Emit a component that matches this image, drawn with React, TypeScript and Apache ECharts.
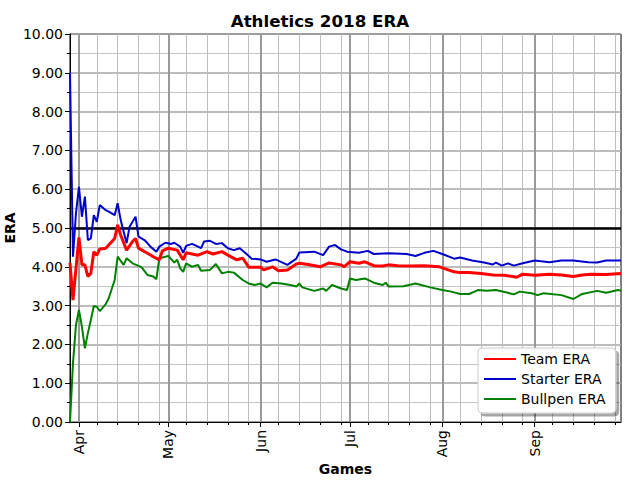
import React, { useEffect, useRef } from "react";
import * as echarts from "echarts";

// x values are days since 2018-03-29 (opening day)
const monthLabels = ["Apr", "May", "Jun", "Jul", "Aug", "Sep"];
const monthStartDays = [3, 33, 64, 94, 125, 156];
const weekDays = [9, 16, 23, 30, 39, 46, 53, 60, 70, 77, 84, 91, 100, 107, 114, 121, 131, 138, 145, 152, 162, 169, 176, 183];
const yTicks = [0, 1, 2, 3, 4, 5, 6, 7, 8, 9, 10];
const thresholdEra = 5;

const teamDays = [0, 1, 3, 4, 5, 6, 7, 8, 9, 10, 12, 13, 15, 16, 17, 19, 21, 22, 23, 26, 28, 30, 31, 33, 36, 38, 39, 43, 46, 48, 51, 53, 56, 58, 60, 64, 65, 68, 70, 73, 76, 77, 80, 84, 87, 91, 92, 94, 97, 99, 102, 105, 107, 110, 114, 119, 124, 129, 131, 134, 138, 142, 146, 150, 152, 156, 161, 165, 169, 172, 175, 180, 185];
const teamEra = [4.1, 3.14, 4.76, 4.05, 4.05, 3.75, 3.83, 4.39, 4.3, 4.46, 4.48, 4.56, 4.73, 5.08, 4.82, 4.43, 4.65, 4.73, 4.48, 4.35, 4.26, 4.18, 4.41, 4.48, 4.43, 4.18, 4.36, 4.3, 4.39, 4.33, 4.39, 4.3, 4.18, 4.22, 3.99, 3.99, 3.92, 4.0, 3.9, 3.92, 4.07, 4.09, 4.06, 4.0, 4.1, 4.05, 4.0, 4.13, 4.09, 4.13, 4.03, 4.02, 4.05, 4.03, 4.02, 4.03, 4.0, 3.87, 3.85, 3.85, 3.83, 3.79, 3.78, 3.73, 3.81, 3.78, 3.81, 3.79, 3.75, 3.79, 3.81, 3.8, 3.83];

const starterDays = [0, 1, 2, 3, 4, 5, 6, 7, 8, 9, 10, 12, 13, 15, 16, 17, 19, 20, 22, 23, 25, 26, 27, 29, 30, 32, 34, 35, 37, 38, 39, 41, 44, 45, 47, 49, 51, 53, 55, 57, 59, 61, 64, 66, 69, 73, 76, 77, 82, 85, 87, 89, 91, 93, 97, 100, 102, 107, 113, 116, 119, 122, 125, 129, 131, 135, 139, 142, 143, 145, 147, 149, 152, 156, 161, 165, 169, 174, 177, 180, 185];
const starterEra = [9.0, 4.26, 5.38, 6.06, 5.29, 5.81, 4.69, 4.73, 5.33, 5.16, 5.59, 5.46, 5.42, 5.33, 5.64, 5.21, 4.61, 5.03, 5.29, 4.78, 4.69, 4.61, 4.52, 4.39, 4.52, 4.62, 4.59, 4.62, 4.52, 4.36, 4.54, 4.59, 4.48, 4.65, 4.67, 4.59, 4.61, 4.48, 4.43, 4.48, 4.35, 4.21, 4.19, 4.13, 4.19, 4.05, 4.21, 4.37, 4.39, 4.3, 4.52, 4.56, 4.45, 4.39, 4.36, 4.41, 4.33, 4.35, 4.33, 4.28, 4.36, 4.41, 4.33, 4.21, 4.24, 4.16, 4.11, 4.06, 4.11, 4.03, 4.09, 4.03, 4.09, 4.16, 4.12, 4.16, 4.16, 4.12, 4.11, 4.16, 4.16];

const bullpenDays = [0, 1, 2, 3, 4, 5, 6, 7, 8, 9, 10, 12, 13, 15, 16, 18, 19, 21, 24, 26, 28, 29, 30, 33, 35, 36, 37, 38, 39, 41, 43, 44, 47, 49, 51, 53, 55, 58, 60, 62, 64, 66, 68, 71, 74, 76, 77, 78, 82, 85, 86, 88, 91, 93, 94, 96, 99, 102, 105, 106, 107, 112, 116, 121, 125, 128, 131, 134, 137, 140, 143, 147, 149, 151, 155, 157, 159, 165, 169, 172, 177, 180, 184, 185];
const bullpenEra = [0.0, 1.51, 2.5, 2.89, 2.46, 1.9, 2.29, 2.63, 2.99, 2.97, 2.86, 3.04, 3.19, 3.66, 4.26, 4.05, 4.22, 4.09, 3.99, 3.79, 3.75, 3.68, 4.22, 4.28, 4.11, 4.18, 3.96, 3.87, 4.09, 4.0, 4.05, 3.9, 3.92, 4.07, 3.83, 3.87, 3.85, 3.66, 3.57, 3.53, 3.57, 3.47, 3.59, 3.57, 3.53, 3.49, 3.57, 3.47, 3.38, 3.44, 3.38, 3.53, 3.44, 3.4, 3.7, 3.66, 3.7, 3.59, 3.53, 3.59, 3.49, 3.5, 3.57, 3.47, 3.4, 3.36, 3.3, 3.3, 3.4, 3.38, 3.4, 3.33, 3.29, 3.36, 3.32, 3.27, 3.32, 3.27, 3.17, 3.3, 3.38, 3.33, 3.4, 3.38];

const FONT = "DejaVu Sans";

function pairs(xs: number[], ys: number[]) {
  return xs.map((x, i) => [x, ys[i]]);
}

export default function App() {
  const ref = useRef<HTMLDivElement>(null);

  useEffect(() => {
    if (!ref.current) return;
    const chart = echarts.init(ref.current, null, { renderer: "svg" });

    const gridLines: any[] = [];
    weekDays.forEach((d) =>
      gridLines.push({ xAxis: d, lineStyle: { color: "#bdbdbd", width: 1, type: "solid" } })
    );
    monthStartDays.forEach((d) =>
      gridLines.push({ xAxis: d, lineStyle: { color: "#999999", width: 2, type: "solid" } })
    );
    gridLines.push({ yAxis: thresholdEra, lineStyle: { color: "#000000", width: 2.5, type: "solid" } });

    chart.setOption({
      animation: false,
      backgroundColor: "#ffffff",
      title: {
        text: "Athletics 2018 ERA",
        left: "center",
        top: 7,
        textStyle: { fontFamily: FONT, fontSize: 16.7, fontWeight: "bold", color: "#000" },
      },
      grid: {
        left: 70,
        right: 19,
        top: 34,
        bottom: 58,
        containLabel: false,
        outerBoundsMode: "none",
        show: true,
        borderColor: "#000",
        borderWidth: 1,
      },
      legend: {
        data: ["Team ERA", "Starter ERA", "Bullpen ERA"],
        orient: "vertical",
        left: 478,
        top: 348,
        itemWidth: 32,
        itemHeight: 14,
        itemGap: 6,
        padding: [4, 10, 7, 5],
        backgroundColor: "#ffffff",
        borderColor: "#cccccc",
        borderWidth: 1,
        borderRadius: 4,
        shadowColor: "rgba(0,0,0,0.35)",
        shadowBlur: 0,
        shadowOffsetX: 3,
        shadowOffsetY: 3,
        itemStyle: { opacity: 0 },
        textStyle: { fontFamily: FONT, fontSize: 14, color: "#000" },
      },
      xAxis: [
        {
          type: "value",
          min: 0,
          max: 185,
          name: "Games",
          nameLocation: "middle",
          nameGap: 40,
          nameMoveOverlap: false,
          nameTextStyle: { fontFamily: FONT, fontSize: 14, fontWeight: "bold", color: "#000" },
          axisLine: { show: true, lineStyle: { color: "#000", width: 1 } },
          axisTick: {
            show: true,
            inside: false,
            length: 5,
            customValues: monthStartDays,
            lineStyle: { color: "#000", width: 1 },
          },
          axisLabel: {
            show: true,
            customValues: monthStartDays,
            rotate: 90,
            margin: 8,
            fontFamily: FONT,
            fontSize: 14,
            color: "#000",
            formatter: (v: number) => {
              const i = monthStartDays.indexOf(Math.round(v));
              return i >= 0 ? monthLabels[i] : "";
            },
          },
          splitLine: { show: false },
        },
        {
          type: "value",
          min: 0,
          max: 185,
          position: "bottom",
          axisLine: { show: false },
          axisTick: {
            show: true,
            length: 3,
            customValues: weekDays,
            lineStyle: { color: "#000", width: 1 },
          },
          axisLabel: { show: false },
          splitLine: { show: false },
        },
      ],
      yAxis: {
        type: "value",
        min: 0,
        max: 10,
        interval: 1,
        name: "ERA",
        nameLocation: "middle",
        nameGap: 53,
        nameMoveOverlap: false,
        nameTextStyle: { fontFamily: FONT, fontSize: 14, fontWeight: "bold", color: "#000" },
        axisLine: { show: true, lineStyle: { color: "#000", width: 1 } },
        axisTick: { show: true, length: 5, lineStyle: { color: "#000", width: 1 } },
        minorTick: { show: true, splitNumber: 2, length: 3, lineStyle: { color: "#000", width: 1 } },
        axisLabel: {
          margin: 7,
          fontFamily: FONT,
          fontSize: 14,
          color: "#000",
          customValues: yTicks,
          formatter: (v: number) => v.toFixed(2),
        },
        splitLine: { show: true, lineStyle: { color: "#a6a6a6", width: 1.5 } },
        minorSplitLine: { show: true, lineStyle: { color: "#c4c4c4", width: 1 } },
      },
      series: [
        {
          name: "grid-helper",
          type: "line",
          data: [],
          silent: true,
          markLine: {
            silent: true,
            z: 1,
            symbol: ["none", "none"],
            label: { show: false },
            emphasis: { disabled: true },
            animation: false,
            data: gridLines,
          },
        },
        {
          name: "Team ERA",
          type: "line",
          z: 4,
          data: pairs(teamDays, teamEra),
          showSymbol: false,
          symbol: "none",
          lineStyle: { color: "#ff0000", width: 3 },
          itemStyle: { color: "#ff0000" },
        },
        {
          name: "Starter ERA",
          type: "line",
          z: 3,
          data: pairs(starterDays, starterEra),
          showSymbol: false,
          symbol: "none",
          lineStyle: { color: "#0000cc", width: 2 },
          itemStyle: { color: "#0000cc" },
        },
        {
          name: "Bullpen ERA",
          type: "line",
          z: 3,
          data: pairs(bullpenDays, bullpenEra),
          showSymbol: false,
          symbol: "none",
          lineStyle: { color: "#008000", width: 2 },
          itemStyle: { color: "#008000" },
        },
      ],
    });

    return () => chart.dispose();
  }, []);

  return (
    <div
      ref={ref}
      style={{ position: "fixed", left: 0, top: 0, width: 640, height: 480, background: "#fff" }}
    />
  );
}
